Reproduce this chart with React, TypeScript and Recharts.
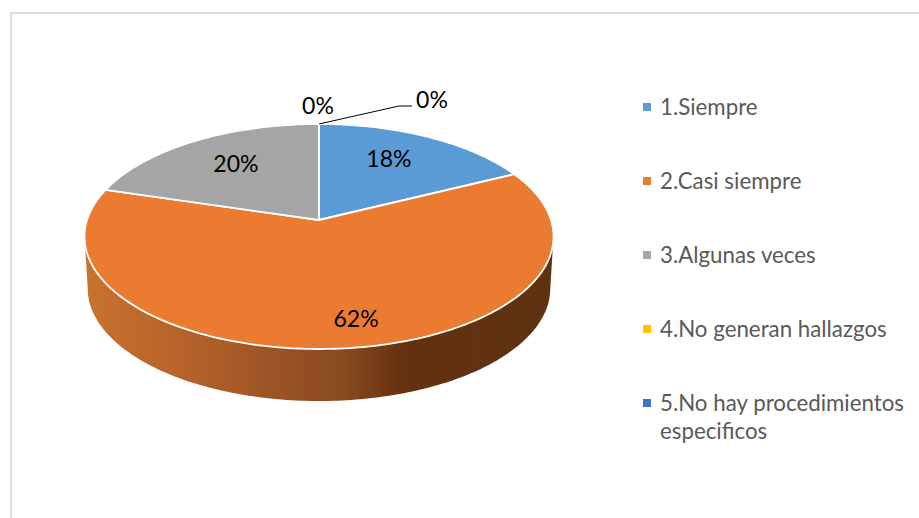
import React from "react";
import { Cell, Legend, Pie, PieChart } from "recharts";

const categories = [
  "1.Siempre",
  "2.Casi siempre",
  "3.Algunas veces",
  "4.No generan hallazgos",
  "5.No hay procedimientos especificos",
];
const shares = [17.7, 61.9, 20.4, 0, 0];
const colors = ["#5b9bd5", "#eb7b30", "#a5a5a5", "#ffc000", "#4472c4"];

const chartData = categories.map((name, i) => ({ name, value: shares[i] }));

// tilt of the disc: the near edge is larger than the far edge
const SQUASH = 0.4745;
const PERSPECTIVE = 0.1467;
const DEPTH = 52;
const BASE_NARROWING = 0.986;

// label position relative to the rim point at the slice's middle angle
const labelNudge = [
  [-39, 21],
  [14, -30],
  [41, 22],
  [-1, -19],
  [113, -25],
];

const rimPoint = (cx: number, cy: number, r: number, angle: number) => {
  const phi = ((90 - angle) * Math.PI) / 180;
  const d = 1 + PERSPECTIVE * Math.cos(phi);
  return {
    x: cx + (r * Math.sin(phi)) / d,
    y: cy - (r * SQUASH * Math.cos(phi)) / d,
  };
};

const rimPath = (cx: number, cy: number, r: number, from: number, to: number) => {
  const steps = Math.max(2, Math.ceil(Math.abs(to - from)));
  const pts = [];
  for (let i = 0; i <= steps; i++) {
    pts.push(rimPoint(cx, cy, r, from + ((to - from) * i) / steps));
  }
  return pts;
};

function TiltedSlice(props: any) {
  const { cx, cy, outerRadius, startAngle, endAngle, fill } = props;
  if (Math.abs(endAngle - startAngle) < 0.01) return null;
  const rim = rimPath(cx, cy, outerRadius, startAngle, endAngle);
  const top = `M${cx},${cy} ` + rim.map((p) => `L${p.x},${p.y}`).join(" ") + " Z";

  // the side wall shows only between the two silhouette points
  const tangent = (Math.acos(-PERSPECTIVE) * 180) / Math.PI;
  const wallFrom = Math.min(startAngle, 90 - tangent);
  const wallTo = Math.max(endAngle, 90 - (360 - tangent));
  let wall = null;
  if (wallFrom > wallTo) {
    const front = rimPath(cx, cy, outerRadius, wallFrom, wallTo);
    const back = front
      .map((p) => ({ x: cx + (p.x - cx) * BASE_NARROWING, y: p.y + DEPTH }))
      .reverse();
    const d = [...front, ...back].map((p, i) => `${i ? "L" : "M"}${p.x},${p.y}`).join(" ") + " Z";
    wall = <path d={d} fill="url(#wallShade)" />;
  }

  return (
    <g>
      {wall}
      <path d={top} fill={fill} stroke="#ffffff" strokeWidth={1.8} strokeLinejoin="round" />
    </g>
  );
}

function SliceLabel(props: any) {
  const { cx, cy, outerRadius, midAngle, percent, index } = props;
  const rim = rimPoint(cx, cy, outerRadius, midAngle);
  const [dx, dy] = labelNudge[index];
  const x = rim.x + dx;
  const y = rim.y + dy;
  return (
    <g>
      {index === 4 && (
        <polyline points={`${rim.x},${rim.y} ${rim.x + 80},${rim.y - 18} ${rim.x + 93},${rim.y - 18}`} fill="none" stroke="#000000" strokeWidth={1} />
      )}
      <text x={x} y={y} fill="#000000" fontSize={23} fontFamily="Lato" textAnchor="middle" dominantBaseline="central">
        {`${Math.round(percent * 100)}%`}
      </text>
    </g>
  );
}

function LegendList({ payload }: any) {
  return (
    <div style={{ fontFamily: "Lato", fontSize: 22.3, lineHeight: "28px", color: "#595959" }}>
      {(payload || []).map((entry: any) => (
        <div key={entry.value} style={{ position: "relative", paddingLeft: 17, marginBottom: 46 }}>
          <span style={{ position: "absolute", left: 0, top: 10, width: 8, height: 8, background: entry.color }} />
          {entry.value}
        </div>
      ))}
    </div>
  );
}

export default function App() {
  return (
    <div style={{ position: "absolute", left: 0, top: 0, width: 919, height: 518, overflow: "hidden", background: "#ffffff" }}>
      <div style={{ position: "absolute", left: 10, top: 12, width: 940, height: 540, border: "2px solid #dcdcdc" }} />
      <PieChart width={919} height={518} margin={{ top: 0, right: 0, bottom: 0, left: 0 }}>
        <defs>
          <linearGradient id="wallShade" x1="0" y1="0" x2="1" y2="0">
            <stop offset="0%" stopColor="#c9722f" />
            <stop offset="22%" stopColor="#b5622a" />
            <stop offset="45%" stopColor="#955024" />
            <stop offset="55%" stopColor="#8a4a20" />
            <stop offset="68%" stopColor="#643110" />
            <stop offset="100%" stopColor="#5f3212" />
          </linearGradient>
        </defs>
        <Pie
          data={chartData}
          dataKey="value"
          nameKey="name"
          cx={319}
          cy={220}
          outerRadius={232}
          startAngle={90}
          endAngle={-270}
          shape={TiltedSlice}
          label={SliceLabel}
          labelLine={false}
          legendType="square"
          isAnimationActive={false}
        >
          {chartData.map((d, i) => (
            <Cell key={d.name} fill={colors[i]} />
          ))}
        </Pie>
        <Legend
          content={LegendList}
          wrapperStyle={{ position: "absolute", left: 643, top: 93, width: 268, height: "auto", bottom: "auto" }}
        />
      </PieChart>
    </div>
  );
}
